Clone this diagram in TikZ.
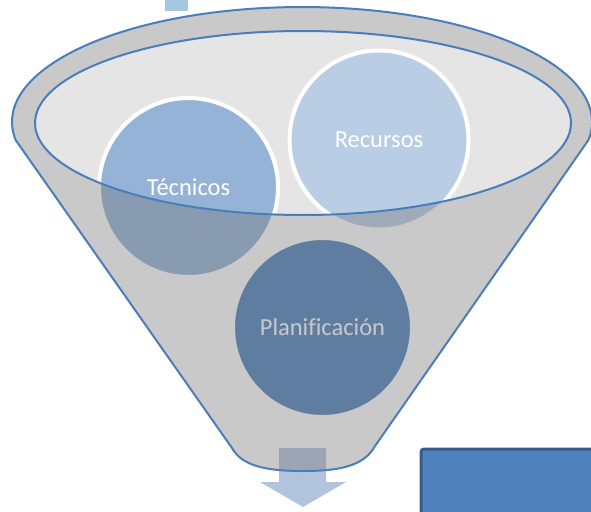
\documentclass[tikz,border=0pt]{standalone}
\usepackage{fontspec}
\setmainfont{Carlito}[Ligatures=NoCommon]
\definecolor{funnelline}{HTML}{4A7EBB}
\definecolor{bodygray}{HTML}{797979}
\definecolor{mouthgray}{HTML}{E5E5E5}
\definecolor{tecfill}{HTML}{95B3D7}
\definecolor{recfill}{HTML}{B9CDE5}
\definecolor{planfill}{HTML}{4F81BD}
\definecolor{arrowfill}{HTML}{B2C3DE}
\definecolor{topsq}{HTML}{A6C8DE}
\definecolor{boxline}{HTML}{385D8A}

\begin{document}
\begin{tikzpicture}[x=1pt,y=-1pt]
\tikzstyle{ball}=[circle, draw=white, line width=4pt, minimum size=179pt, inner sep=0pt, text=white, font=\fontsize{24.5}{29}\selectfont];
\useasboundingbox (0,0) rectangle (591,511);
\clip (0,0) rectangle (591,511);
\fill[topsq] (165,-5) rectangle (188,11);
\fill[mouthgray] (303,123) ellipse [x radius=268, y radius=92];
\node[ball, fill=tecfill] (tec) at (188.5,187.5) {Técnicos};
\node[ball, fill=recfill] (rec) at (379,140) {Recursos};
\node[ball, fill=planfill] (plan) at (322.5,327.5) {Planificación};
\fill[arrowfill] (279,448) -- (326,448) -- (326,482) -- (346,482) -- (303,507) -- (260,482) -- (279,482) -- cycle;
\filldraw[fill=bodygray, fill opacity=0.4, draw=funnelline, line width=2pt, even odd rule]
  (15.6,140) arc[start angle=171, end angle=369, x radius=290, y radius=115]
  -- (375,446) .. controls (364,466) and (340,471) .. (303,471)
  .. controls (266,471) and (242,466) .. (232,448) -- cycle
  (303,123) ellipse [x radius=268, y radius=92];
\draw[line width=3pt, draw=boxline, fill=planfill, rounded corners=3pt] (421,449) rectangle (620,540);
\end{tikzpicture}
\end{document}
